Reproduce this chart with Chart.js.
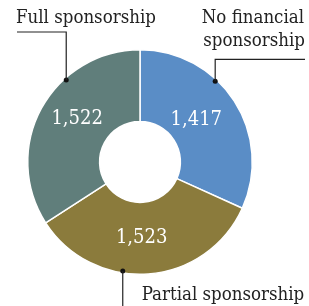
<!DOCTYPE html>
<html>
<head>
<meta charset="utf-8">
<script src="https://cdn.jsdelivr.net/npm/chart.js@4"></script>
<style>
  html, body { margin: 0; padding: 0; background: #fff; }
  #wrap { width: 309px; height: 306px; position: relative; }
</style>
</head>
<body>
<div id="wrap"><canvas id="myChart"></canvas></div>
<script>
const categories = ['No financial sponsorship', 'Partial sponsorship', 'Full sponsorship'];
const values = [1417, 1523, 1522];
const valueLabels = ['1,417', '1,523', '1,522'];
const sliceColors = ['#5a8dc6', '#8b7b3c', '#607e7b'];

// callout text lines + where on the ring the dot sits (degrees clockwise from top)
const calloutLines = [['No financial', 'sponsorship'], ['Partial sponsorship'], ['Full sponsorship']];
const calloutAngles = [43, 189, 318];
// nudge of the number labels: degrees off the slice mid-angle, px off the ring middle
const labelNudge = [-4, 3, 6];
const labelRadiusNudge = [-6, -1, 0];

const serif = '"DejaVu Serif Condensed", "Liberation Serif", serif';

const labelsPlugin = {
    id: 'sliceLabels',
    afterDatasetsDraw(chart) {
        const ctx = chart.ctx;
        const arcs = chart.getDatasetMeta(0).data;
        ctx.save();

        // numbers inside slices
        ctx.fillStyle = '#ffffff';
        ctx.font = '20px ' + serif;
        ctx.textAlign = 'center';
        ctx.textBaseline = 'middle';
        arcs.forEach((arc, i) => {
            const mid = (arc.startAngle + arc.endAngle) / 2 + labelNudge[i] * Math.PI / 180;
            const r = (arc.innerRadius + arc.outerRadius) / 2 + labelRadiusNudge[i];
            ctx.fillText(valueLabels[i], arc.x + Math.cos(mid) * r, arc.y + Math.sin(mid) * r);
        });

        // callouts
        ctx.strokeStyle = '#222';
        ctx.lineWidth = 1.2;
        ctx.font = '18.5px ' + serif;
        ctx.textBaseline = 'alphabetic';
        arcs.forEach((arc, i) => {
            const a = (calloutAngles[i] - 90) * Math.PI / 180;
            const r = arc.outerRadius - 2;
            const dx = arc.x + Math.cos(a) * r;
            const dy = arc.y + Math.sin(a) * r;

            ctx.fillStyle = '#111';
            ctx.beginPath();
            ctx.arc(dx, dy, 2.5, 0, Math.PI * 2);
            ctx.fill();

            ctx.fillStyle = '#222';
            ctx.beginPath();
            if (i === 0) {
                // up then right
                ctx.moveTo(dx, dy);
                ctx.lineTo(dx, dy - 22);
                ctx.lineTo(chart.width - 4, dy - 22);
                ctx.stroke();
                ctx.textAlign = 'right';
                ctx.fillText(calloutLines[i][0], chart.width - 5, 23);
                ctx.fillText(calloutLines[i][1], chart.width - 4, 46);
            } else if (i === 1) {
                // straight down
                ctx.moveTo(dx, dy);
                ctx.lineTo(dx, chart.height);
                ctx.stroke();
                ctx.textAlign = 'left';
                ctx.fillText(calloutLines[i][0], dx + 19, 300);
            } else {
                // up then left
                ctx.moveTo(dx, dy);
                ctx.lineTo(dx, 32);
                ctx.lineTo(17, 32);
                ctx.stroke();
                ctx.textAlign = 'left';
                ctx.fillText(calloutLines[i][0], 16, 23);
            }
        });
        ctx.restore();
    }
};

const ctx = document.getElementById('myChart').getContext('2d');
new Chart(ctx, {
    type: 'doughnut',
    data: {
        labels: categories,
        datasets: [{
            data: values,
            backgroundColor: sliceColors,
            borderColor: '#ffffff',
            borderWidth: 1.5
        }]
    },
    options: {
        responsive: true,
        maintainAspectRatio: false,
        animation: false,
        cutout: '36%',
        layout: { padding: { left: 27, right: 56, top: 48, bottom: 30 } },
        plugins: {
            legend: { display: false },
            tooltip: { enabled: false }
        }
    },
    plugins: [labelsPlugin]
});
</script>
</body>
</html>
